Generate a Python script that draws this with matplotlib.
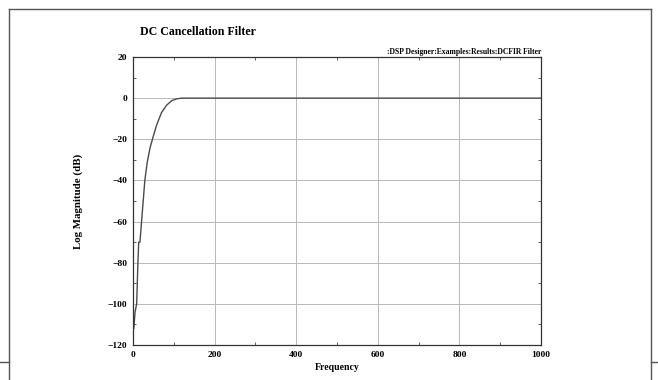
import matplotlib
matplotlib.use("Agg")
import matplotlib.pyplot as plt
from matplotlib.lines import Line2D
from matplotlib.ticker import MultipleLocator

# Data
freq = [0, 2, 5, 9, 12, 14, 17, 21, 25, 29, 35, 42, 49, 58, 70, 82, 95, 108, 120, 200, 400, 600, 800, 1000]
mag_db = [-112, -112, -104, -100, -80, -70, -70, -60, -50, -40, -31, -24, -19, -13, -7, -3.5, -1.2, -0.3, 0, 0, 0, 0, 0, 0]

xticks = [0, 200, 400, 600, 800, 1000]
yticks = [20, 0, -20, -40, -60, -80, -100, -120]

title = "DC Cancellation Filter"
path_text = ":DSP Designer:Examples:Results:DCFIR Filter"
xlabel = "Frequency"
ylabel = "Log Magnitude (dB)"

W, H = 658, 380
fig = plt.figure(figsize=(W / 100, H / 100), dpi=100)
fig.patch.set_facecolor("white")

serif = ["Liberation Serif", "DejaVu Serif"]

ax = fig.add_axes([133 / W, 1 - 345 / H, (541 - 133) / W, (345 - 57) / H])
ax.plot(freq, mag_db, color="#4a4a4a", lw=1.0)
ax.set_xlim(0, 1000)
ax.set_ylim(-120, 20)
ax.set_xticks(xticks)
ax.set_yticks(yticks)
ax.xaxis.set_minor_locator(MultipleLocator(100))
ax.yaxis.set_minor_locator(MultipleLocator(10))
ax.grid(True, which="major", color="#b8b8b8", lw=0.7)
ax.tick_params(which="both", direction="in", length=2, width=0.6, color="#444444",
               top=True, right=True, labelsize=6.8)
ax.tick_params(which="major", length=0, pad=4)
for lab in ax.get_xticklabels() + ax.get_yticklabels():
    lab.set_fontfamily(serif)
    lab.set_fontweight("bold")
for s in ax.spines.values():
    s.set_color("#333333")
    s.set_linewidth(0.9)

ax.set_xlabel(xlabel, fontfamily=serif, fontweight="bold", fontsize=7, labelpad=3)
ax.set_ylabel(ylabel, fontfamily=serif, fontweight="bold", fontsize=7.8, labelpad=18)

fig.text(140 / W, 1 - 32 / H, title, fontfamily=serif, fontweight="bold",
         fontsize=8.6, ha="left", va="center")
fig.text(541 / W, 1 - 52 / H, path_text, fontfamily=serif, fontweight="bold",
         fontsize=5.5, ha="right", va="center")

# outer frame lines of the scanned page
frame_kw = dict(color="#555555", lw=1.0, transform=fig.transFigure)
fig.add_artist(Line2D([9 / W, 651 / W], [1 - 9 / H, 1 - 9 / H], **frame_kw))
fig.add_artist(Line2D([9 / W, 9 / W], [1 - 9 / H, 0], **frame_kw))
fig.add_artist(Line2D([651 / W, 651 / W], [1 - 9 / H, 0], **frame_kw))
fig.add_artist(Line2D([0, 9 / W], [1 - 362 / H, 1 - 362 / H], **frame_kw))
fig.add_artist(Line2D([651 / W, 1], [1 - 362 / H, 1 - 362 / H], **frame_kw))

fig.savefig("out.png", dpi=100)
